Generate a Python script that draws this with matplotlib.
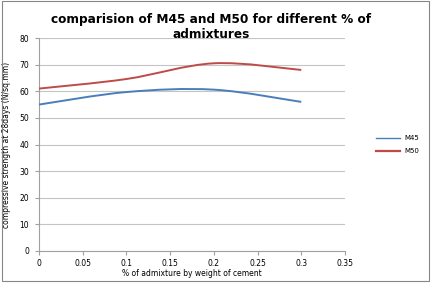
import matplotlib.pyplot as plt
from matplotlib.path import Path
from matplotlib.patches import PathPatch, Rectangle
from matplotlib.lines import Line2D

# data
admixture = [0, 0.1, 0.2, 0.3]
m45 = [55, 59.7, 60.6, 56]
m50 = [61, 64.6, 70.5, 68]
x_ticks = [0, 0.05, 0.1, 0.15, 0.2, 0.25, 0.3, 0.35]
x_tick_labels = ['0', '0.05', '0.1', '0.15', '0.2', '0.25', '0.3', '0.35']
y_ticks = [0, 10, 20, 30, 40, 50, 60, 70, 80]


def smooth_path(xs, ys, tension=1 / 6):
    # excel-like smoothed line as cubic bezier segments through the points
    verts = [(xs[0], ys[0])]
    codes = [Path.MOVETO]
    n = len(xs)
    for i in range(n - 1):
        x0, y0 = (xs[i - 1], ys[i - 1]) if i > 0 else (xs[i], ys[i])
        x1, y1 = xs[i], ys[i]
        x2, y2 = xs[i + 1], ys[i + 1]
        x3, y3 = (xs[i + 2], ys[i + 2]) if i + 2 < n else (x2, y2)
        c1 = (x1 + (x2 - x0) * tension, y1 + (y2 - y0) * tension)
        c2 = (x2 - (x3 - x1) * tension, y2 - (y3 - y1) * tension)
        verts += [c1, c2, (x2, y2)]
        codes += [Path.CURVE4] * 3
    return Path(verts, codes)


fig = plt.figure(figsize=(4.32, 2.84), dpi=100)
ax = fig.add_axes([39 / 432, 1 - 251 / 284, (345 - 39) / 432, (251 - 38) / 284])

blue = '#4A7EBB'
red = '#BE4B48'
for ys, col in [(m45, blue), (m50, red)]:
    ax.add_patch(PathPatch(smooth_path(admixture, ys), facecolor='none',
                           edgecolor=col, lw=1.4, zorder=3))

ax.set_xlim(0, 0.35)
ax.set_ylim(0, 80)
ax.set_xticks(x_ticks)
ax.set_xticklabels(x_tick_labels)
ax.set_yticks(y_ticks)
ax.tick_params(labelsize=5.5, length=3, color='#A0A0A0', pad=4)
ax.tick_params(axis='x', pad=3)
ax.yaxis.grid(True, color='#C4C4C4', lw=0.8)
ax.set_axisbelow(True)
for s in ['top', 'right']:
    ax.spines[s].set_visible(False)
for s in ['left', 'bottom']:
    ax.spines[s].set_color('#A0A0A0')
    ax.spines[s].set_linewidth(0.8)

ax.set_xlabel('% of admixture by weight of cement', fontsize=5.5, labelpad=0.5)
ax.set_ylabel('compressive strength at 28days (N/sq.mm)', fontsize=5.5, labelpad=6)

fig.text(0.488, 0.955, 'comparision of M45 and M50 for different % of\nadmixtures',
         ha='center', va='top', fontsize=8.7, fontweight='bold', linespacing=1.25)

handles = [Line2D([], [], color=blue, lw=1.0), Line2D([], [], color=red, lw=1.6)]
fig.legend(handles, ['M45', 'M50'], loc='center left', bbox_to_anchor=(0.855, 0.49),
           frameon=False, fontsize=5, handlelength=3.5, handletextpad=0.6, labelspacing=1.0)

fig.patches.append(Rectangle((0.004, 0.01), 0.99, 0.985, transform=fig.transFigure,
                             fill=False, edgecolor='#868686', lw=0.8))

fig.savefig('out.png', dpi=100)
